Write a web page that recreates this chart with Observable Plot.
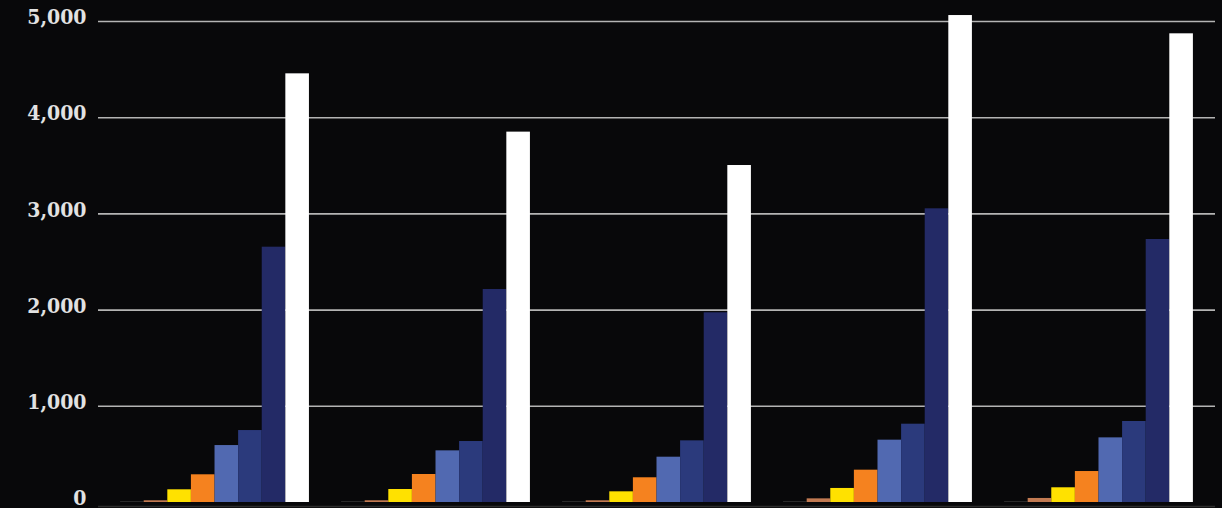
<!DOCTYPE html>
<html>
<head>
<meta charset="utf-8">
<script src="https://cdn.jsdelivr.net/npm/d3@7"></script>
<script src="https://cdn.jsdelivr.net/npm/@observablehq/plot@0.6"></script>
<style>
  html, body { margin: 0; padding: 0; background: #08080a; }
  #chart { position: relative; width: 1222px; height: 508px; overflow: hidden; }
  #chart svg { position: absolute; left: 0; top: 0; }
</style>
</head>
<body>
<div id="chart"></div>
<script>
// Categories (groups along x) and series (bars within each group)
const groups = ["G1", "G2", "G3", "G4", "G5"];
const series = ["S1", "S2", "S3", "S4", "S5", "S6", "S7", "S8"];

// Series values, one entry per group
const s1 = [10, 10, 10, 10, 10];
const s2 = [18, 18, 18, 38, 42];
const s3 = [132, 135, 111, 146, 153];
const s4 = [288, 291, 257, 336, 322];
const s5 = [592, 537, 471, 648, 672];
const s6 = [748, 634, 641, 814, 842];
const s7 = [2654, 2214, 1972, 3053, 2734];
const s8 = [4456, 3850, 3503, 5062, 4872];

// Tick values of the y axis
const yTicks = [0, 1000, 2000, 3000, 4000, 5000];

const colors = ["#2c2c2c", "#c27a52", "#ffe100", "#f5821f", "#5169b1", "#2b3a7c", "#232a66", "#ffffff"];

const seriesValues = [s1, s2, s3, s4, s5, s6, s7, s8];
const data = [];
groups.forEach((g, gi) => {
  series.forEach((s, si) => {
    data.push({group: g, series: s, value: seriesValues[si][gi]});
  });
});

const dims = {
  width: 1222,
  height: 508,
  marginLeft: 98,
  marginRight: 7,
  marginTop: 21,
  marginBottom: 6
};
const font = "'DejaVu Serif Condensed', 'DejaVu Serif', serif";

// Layer 1: grid lines and y axis (continuous across the whole width)
const gridLayer = Plot.plot({
  ...dims,
  style: {background: "#08080a", color: "#e2e2e2", fontFamily: font, fontWeight: "bold"},
  y: {domain: [0, 5000], label: null},
  marks: [
    Plot.ruleY(yTicks.filter(d => d > 0), {stroke: "#b4b4b4", strokeWidth: 1.6}),
    Plot.ruleY([0], {dy: 4, stroke: "#2e2e2e", strokeWidth: 1.5}),
    Plot.axisY({
      ticks: yTicks,
      tickSize: 0,
      tickPadding: 12,
      tickFormat: d3.format(","),
      fontSize: 21,
      dy: -4,
      label: null
    })
  ]
});

// Layer 2: grouped bars (faceted by group), drawn over the grid
const barLayer = Plot.plot({
  ...dims,
  style: {background: "transparent"},
  fx: {domain: groups, paddingInner: 0.1455, paddingOuter: 0.1, round: false, axis: null, label: null},
  x: {domain: series, padding: 0, round: false, axis: null, label: null},
  y: {domain: [0, 5000], axis: null, label: null},
  color: {domain: series, range: colors},
  marks: [
    Plot.barY(data, {fx: "group", x: "series", y: "value", fill: "series"})
  ]
});

const el = document.getElementById("chart");
el.appendChild(gridLayer);
el.appendChild(barLayer);
</script>
</body>
</html>
